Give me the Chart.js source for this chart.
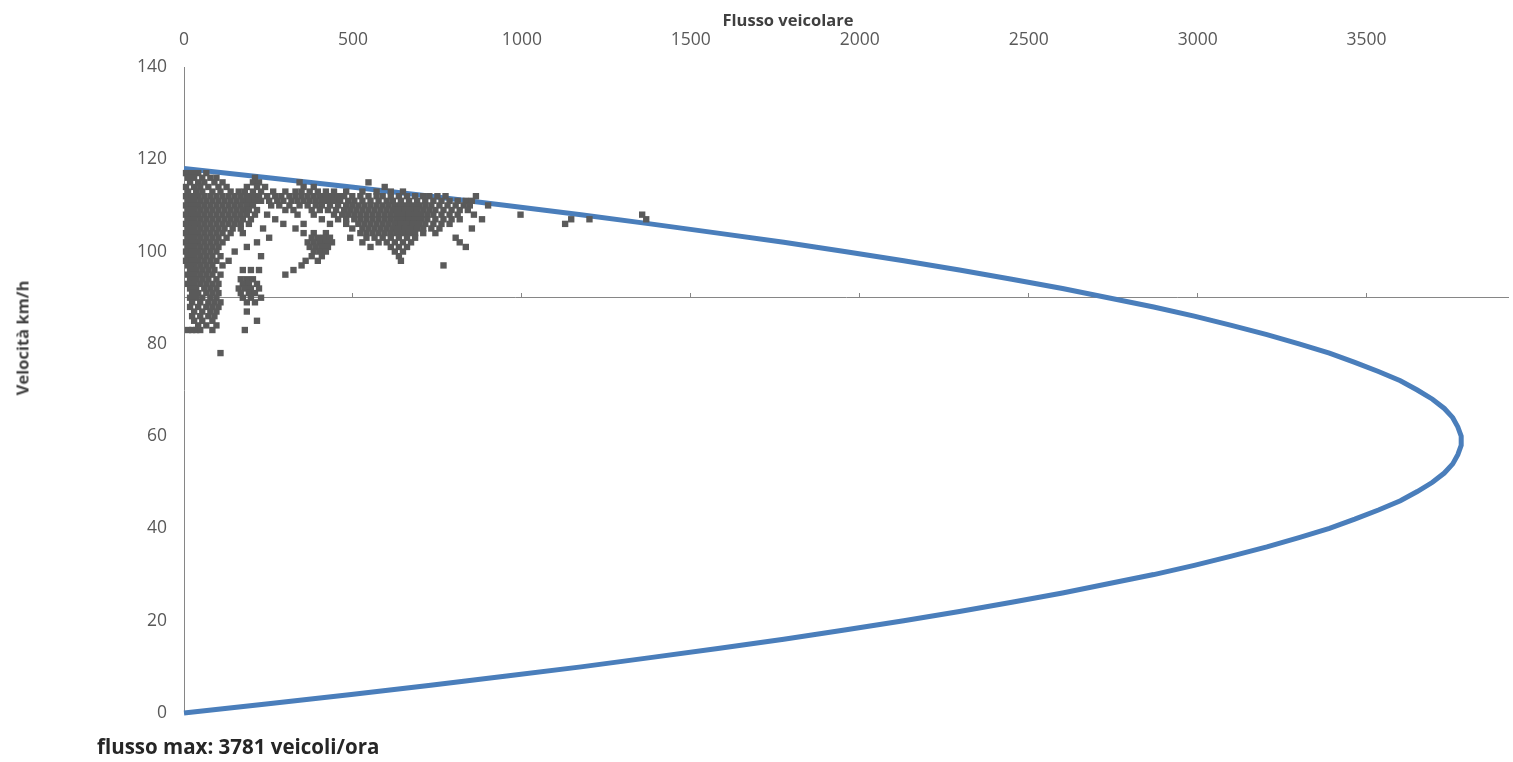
<!DOCTYPE html>
<html lang="it">
<head>
<meta charset="utf-8">
<title>Flusso veicolare - velocità</title>
<script src="https://cdn.jsdelivr.net/npm/chart.js@4.4.1/dist/chart.umd.min.js"></script>
<style>
  html, body { margin: 0; padding: 0; background: #fff; }
  #wrap { position: relative; width: 1513px; height: 762px; }
  #wrap canvas { position: absolute; left: 0; top: 0; }
  .lbl { position: absolute; font-family: "Open Sans", sans-serif; font-weight: bold; color: #404040; white-space: nowrap; }
  #titleX { left: 788px; top: 19px; font-size: 16.5px; transform: translate(-50%, -50%); }
  #titleY { left: 22px; top: 338px; font-size: 16.5px; transform: translate(-50%, -50%) rotate(-90deg); }
  #note { left: 97px; top: 746px; font-size: 20.5px; transform: translateY(-50%); color: #262626; }
</style>
</head>
<body>
<div id="wrap">
  <canvas id="chart" width="1513" height="762"></canvas>
  <div class="lbl" id="titleX">Flusso veicolare</div>
  <div class="lbl" id="titleY">Velocità km/h</div>
  <div class="lbl" id="note">flusso max: 3781 veicoli/ora</div>
</div>
<script>
// model curve (speed km/h -> flow veh/h)
const curveSpeed = [0, 2, 4, 6, 8, 10, 12, 14, 16, 18, 20, 22, 24, 26, 28, 30, 32, 34, 36, 38,
  40, 42, 44, 46, 48, 50, 52, 54, 56, 58, 60, 62, 64, 66, 68, 70, 72, 74, 76, 78,
  80, 82, 84, 86, 88, 90, 92, 94, 96, 98, 100, 102, 104, 106, 108, 110, 112, 114, 116, 118];
const curveFlow = [0, 250, 495, 730, 955, 1175, 1380, 1580, 1775, 1955, 2130, 2295, 2450, 2600, 2735, 2870, 2990, 3100, 3205, 3300,
  3390, 3465, 3535, 3600, 3650, 3695, 3730, 3755, 3770, 3780, 3780, 3770, 3755, 3730, 3695, 3650, 3600, 3535, 3465, 3390,
  3300, 3205, 3100, 2990, 2870, 2735, 2600, 2450, 2295, 2130, 1955, 1775, 1580, 1380, 1175, 955, 730, 495, 250, 0];

// observed data, grouped by speed row
const obsSpeed = [117, 116, 115, 114, 113, 112, 111, 110, 109, 108, 107, 106, 105, 104, 103, 102, 101, 100,
  99, 98, 97, 96, 95, 94, 93, 92, 91, 90, 89, 88, 87, 86, 85, 84, 83, 78];
const obsFlow = [
  [6, 24, 42, 66],
  [12, 30, 54, 78, 96, 210],
  [18, 42, 60, 90, 114, 204, 222, 342, 546],
  [6, 30, 48, 72, 102, 126, 186, 216, 240, 354, 384, 594],
  [12, 36, 54, 84, 108, 138, 162, 180, 204, 228, 264, 300, 330, 348, 372, 396, 420, 444, 480, 528, 570, 612, 648],
  [6, 24, 42, 60, 78, 96, 114, 132, 150, 168, 186, 204, 222, 246, 270, 288, 312, 330, 348, 366, 384, 402, 420, 438, 456, 474, 498, 522, 546, 570, 588, 612, 636, 660, 684, 708, 726, 750, 774, 864],
  [12, 30, 48, 66, 84, 102, 120, 138, 156, 174, 192, 210, 228, 252, 276, 294, 318, 336, 354, 372, 390, 408, 426, 444, 462, 486, 504, 528, 552, 576, 600, 618, 642, 666, 690, 714, 738, 762, 786, 810, 834, 852],
  [6, 24, 42, 60, 78, 96, 114, 132, 150, 168, 186, 204, 258, 282, 312, 342, 366, 390, 408, 432, 456, 480, 498, 516, 534, 552, 570, 588, 606, 624, 642, 660, 678, 696, 714, 732, 756, 780, 804, 828, 846, 900],
  [12, 30, 48, 66, 84, 102, 120, 138, 156, 174, 192, 216, 300, 324, 378, 402, 426, 450, 474, 492, 510, 528, 546, 564, 582, 600, 618, 636, 654, 672, 690, 708, 726, 744, 768, 792, 816, 840],
  [6, 24, 42, 60, 78, 96, 114, 132, 150, 168, 186, 210, 246, 336, 384, 444, 468, 486, 504, 522, 540, 558, 576, 594, 612, 630, 648, 666, 684, 702, 720, 738, 762, 786, 810, 858, 996, 1356],
  [12, 30, 48, 66, 84, 102, 120, 138, 156, 174, 198, 270, 408, 456, 480, 504, 522, 540, 558, 576, 594, 612, 630, 648, 666, 684, 702, 720, 744, 768, 792, 816, 882, 1146, 1200, 1368],
  [6, 24, 42, 60, 78, 96, 114, 132, 150, 168, 192, 294, 354, 432, 480, 516, 534, 552, 570, 588, 606, 624, 642, 660, 678, 696, 714, 738, 762, 786, 1128],
  [12, 30, 48, 66, 84, 102, 120, 144, 168, 234, 330, 498, 528, 546, 564, 582, 600, 618, 636, 654, 672, 690, 708, 732, 756, 852],
  [6, 24, 42, 60, 78, 96, 114, 138, 174, 354, 384, 420, 522, 540, 558, 576, 594, 612, 630, 648, 666, 684, 708, 744],
  [12, 30, 48, 66, 84, 102, 126, 252, 378, 396, 414, 432, 492, 540, 564, 588, 612, 636, 660, 684, 804],
  [6, 24, 42, 60, 78, 96, 114, 216, 366, 384, 402, 420, 438, 528, 576, 600, 624, 648, 672, 816],
  [12, 30, 48, 66, 84, 102, 186, 372, 390, 408, 426, 552, 612, 636, 660, 834],
  [6, 24, 42, 60, 78, 96, 150, 384, 402, 420, 624, 648],
  [12, 30, 48, 66, 84, 108, 228, 378, 408, 636],
  [6, 24, 42, 60, 78, 96, 132, 360, 396, 642],
  [12, 30, 48, 66, 84, 114, 348, 768],
  [18, 36, 54, 72, 90, 174, 198, 222, 324],
  [12, 30, 48, 66, 84, 108, 300],
  [18, 36, 54, 72, 96, 168, 186, 204],
  [12, 30, 48, 66, 84, 102, 174, 192, 216],
  [18, 36, 60, 78, 96, 162, 180, 198, 222],
  [24, 42, 66, 84, 102, 168, 192, 210],
  [18, 36, 54, 78, 96, 174, 198, 228],
  [24, 48, 72, 90, 108, 186, 210],
  [18, 42, 66, 84, 102],
  [30, 54, 78, 96, 186],
  [24, 48, 72, 90],
  [30, 54, 84, 216],
  [42, 66, 96],
  [12, 24, 36, 48, 84, 180],
  [108]
];

const xTicks = [0, 500, 1000, 1500, 2000, 2500, 3000, 3500];
const yTicks = [0, 20, 40, 60, 80, 100, 120, 140];

const tickFont = { family: "Open Sans", size: 17.5 };
const axisGray = "#868686";

const obsPoints = obsSpeed.flatMap((v, i) => obsFlow[i].map((q) => ({ x: q, y: v })));
const curvePoints = curveSpeed.map((v, i) => ({ x: curveFlow[i], y: v }));

new Chart(document.getElementById("chart"), {
  type: "scatter",
  data: {
    datasets: [
      {
        label: "rilievi",
        data: obsPoints,
        pointStyle: "rect",
        pointRadius: 4.5,
        pointBorderWidth: 0,
        backgroundColor: "#5a5a5a",
        borderColor: "#5a5a5a",
        clip: false,
      },
      {
        label: "modello",
        data: curvePoints,
        showLine: true,
        pointRadius: 0,
        borderWidth: 5,
        borderColor: "#4a7ebb",
        backgroundColor: "#4a7ebb",
        tension: 0,
        clip: false,
      },
    ],
  },
  options: {
    responsive: false,
    animation: false,
    events: [],
    layout: { padding: { left: 0, right: 1, top: 0, bottom: 49 } },
    plugins: { legend: { display: false }, tooltip: { enabled: false } },
    scales: {
      x: {
        type: "linear",
        position: "top",
        min: 0,
        max: 3920,
        afterFit: (s) => { s.height = 67; },
        afterBuildTicks: (s) => { s.ticks = xTicks.map((value) => ({ value })); },
        grid: { display: false, drawTicks: false },
        border: { display: false },
        ticks: { padding: 16, color: "#595959", font: tickFont, maxRotation: 0, autoSkip: false,
          callback: (value) => String(value) },
      },
      x2: {
        type: "linear",
        axis: "x",
        position: { y: 90 },
        min: 0,
        max: 3920,
        afterBuildTicks: (s) => { s.ticks = xTicks.map((value) => ({ value })); },
        grid: { drawOnChartArea: false, drawTicks: true, tickLength: -5, color: axisGray },
        border: { display: true, color: axisGray, width: 1 },
        ticks: { display: false },
      },
      y: {
        type: "linear",
        position: "left",
        min: 0,
        max: 140,
        afterFit: (s) => { s.width = 184; },
        afterBuildTicks: (s) => { s.ticks = yTicks.map((value) => ({ value })); },
        grid: { display: false, drawTicks: false },
        border: { display: true, color: axisGray, width: 1 },
        ticks: { padding: 17, color: "#595959", font: tickFont, callback: (value) => String(value) },
      },
    },
  },
});
</script>
</body>
</html>
